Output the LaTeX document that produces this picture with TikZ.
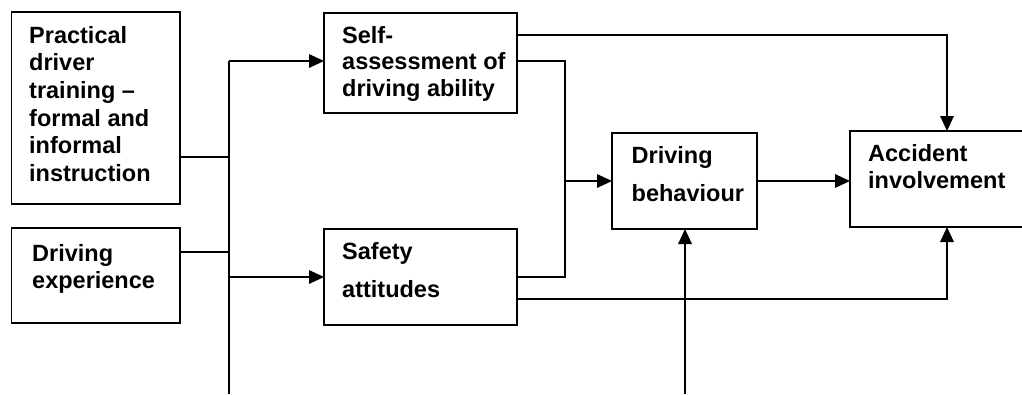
\documentclass[tikz,border=0pt]{standalone}
\usepackage{fontspec}
\setmainfont{Liberation Sans}
\usetikzlibrary{arrows.meta}
\begin{document}
\begin{tikzpicture}[x=1pt,y=1pt,
  box/.style={draw,line width=1.9pt,rectangle,inner sep=0pt,outer sep=0pt,anchor=north west},
  lbl/.style={anchor=base west,inner sep=0pt,font=\fontsize{23.5}{28}\selectfont\bfseries},
  conn/.style={line width=1.7pt},
  arr/.style={line width=1.7pt,-{Triangle[length=15pt,width=13.5pt]}}]
\useasboundingbox (0,0) rectangle (1022,-394);
\clip (0,0) rectangle (1022,-394);
% boxes
\node[box,minimum width=168.5pt,minimum height=192pt] (prac) at (11.5,-12) {};
\node[box,minimum width=168.5pt,minimum height=95pt] (exp) at (11.5,-228) {};
\node[box,minimum width=193pt,minimum height=100pt] (self) at (324,-13) {};
\node[box,minimum width=193pt,minimum height=96pt] (safe) at (324,-229) {};
\node[box,minimum width=145pt,minimum height=96pt] (beh) at (612,-133) {};
\node[box,minimum width=190pt,minimum height=96pt] (acc) at (850,-131) {};
% labels
\node[lbl] (p1) at (29,-43.3) {Practical};
\node[lbl] (p2) at (29,-70.9) {driver};
\node[lbl] (p3) at (29,-98.5) {training –};
\node[lbl] (p4) at (29,-126.1) {formal and};
\node[lbl] (p5) at (29,-153.7) {informal};
\node[lbl] (p6) at (29,-181.3) {instruction};
\node[lbl] (e1) at (32,-261.7) {Driving};
\node[lbl] (e2) at (32,-288.3) {experience};
\node[lbl] (s1) at (342,-43.3) {Self-};
\node[lbl] (s2) at (342,-69.6) {assessment of};
\node[lbl] (s3) at (342,-96) {driving ability};
\node[lbl] (a1) at (342,-259.3) {Safety};
\node[lbl] (a2) at (342,-297.3) {attitudes};
\node[lbl] (b1) at (631.5,-163.3) {Driving};
\node[lbl] (b2) at (631.5,-201.7) {behaviour};
\node[lbl] (c1) at (868,-161.7) {Accident};
\node[lbl] (c2) at (868,-188.3) {involvement};
% junction coordinates
\coordinate (busTop) at (229,-61);
\coordinate (busBot) at (229,-394);
\coordinate (j1) at (229,-157);
\coordinate (j2) at (229,-252);
\coordinate (jSafe) at (229,-277);
\coordinate (mx) at (565,-181);
\coordinate (t) at (947,-35);
\coordinate (b) at (947,-299);
\coordinate (bb) at (685,-394);
% connectors
\draw[conn] (busTop) -- (busBot);
\draw[conn] (prac.east |- j1) -- (j1);
\draw[conn] (exp.east |- j2) -- (j2);
\draw[arr] (busTop) -- (self.west |- busTop);
\draw[arr] (jSafe) -- (safe.west |- jSafe);
\draw[conn] (self.east |- busTop) -| (mx) |- (safe.east |- jSafe);
\draw[arr] (mx) -- (beh.west |- mx);
\draw[arr] (self.east |- t) -| (t |- acc.north);
\draw[arr] (safe.east |- b) -| (b |- acc.south);
\draw[arr] (beh.east |- mx) -- (acc.west |- mx);
\draw[arr] (bb) -- (bb |- beh.south);
\end{tikzpicture}
\end{document}
